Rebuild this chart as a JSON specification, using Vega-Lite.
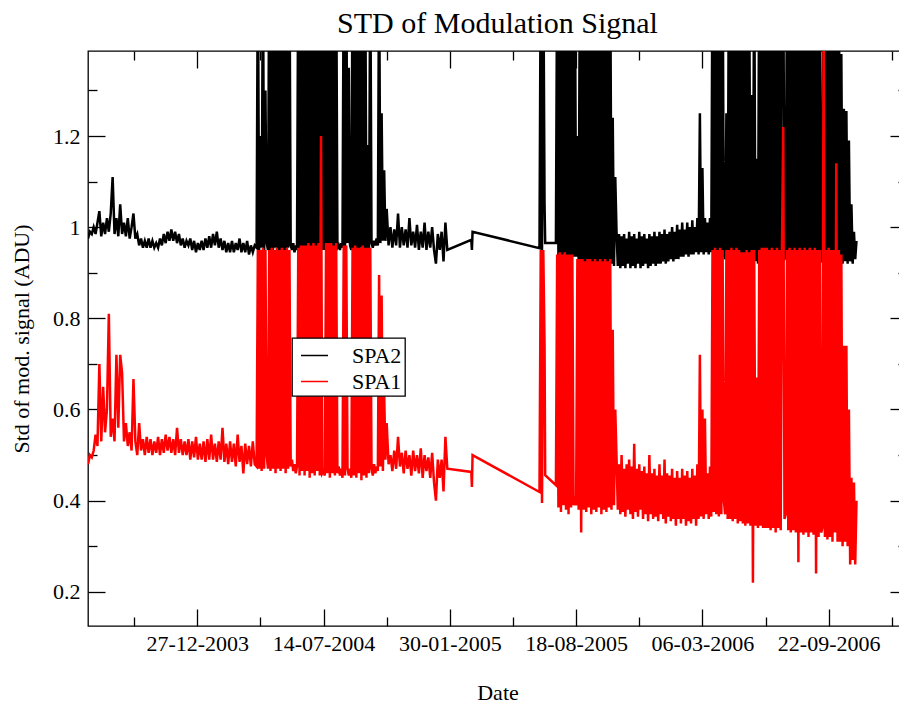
{
"$schema": "https://vega.github.io/schema/vega-lite/v6.json",
"width": 819, "height": 575,
"autosize": {"type": "none"},
"padding": {"left": 88, "top": 51, "right": 0, "bottom": 78},
"background": "white",
"title": {"text": "STD of Modulation Signal", "font": "Liberation Serif", "fontSize": 30, "fontWeight": "normal", "color": "#000", "baseline": "alphabetic", "offset": 21, "dy": 34, "anchor": "middle"},
"config": {
  "view": {"stroke": "#000", "strokeWidth": 1.3},
  "axis": {"grid": false, "domain": false, "tickColor": "#000", "tickWidth": 1.3, "labelFont": "Liberation Serif", "labelFontSize": 22, "labelColor": "#000", "titleFont": "Liberation Serif", "titleFontSize": 22, "titleFontWeight": "normal", "titleColor": "#000", "labelFlush": false, "labelOverlap": false, "labelBound": false},
  "legend": {"strokeWidth": 1.3}
},
"data": {"values": [
{"t":"2003-07-07","SPA2":0.975,"SPA1":0.48},{"t":"2003-07-10","SPA2":0.99,"SPA1":0.50},{"t":"2003-07-13","SPA2":0.985,"SPA1":0.495},{"t":"2003-07-16","SPA2":1.0,"SPA1":0.51},{"t":"2003-07-19","SPA2":0.985,"SPA1":0.545},{"t":"2003-07-22","SPA2":1.01,"SPA1":0.52},{"t":"2003-07-25","SPA2":1.035,"SPA1":0.70},{"t":"2003-07-28","SPA2":0.98,"SPA1":0.53},{"t":"2003-07-31","SPA2":1.01,"SPA1":0.65},{"t":"2003-08-03","SPA2":0.985,"SPA1":0.55},{"t":"2003-08-06","SPA2":1.02,"SPA1":0.60},{"t":"2003-08-09","SPA2":0.99,"SPA1":0.81},{"t":"2003-08-12","SPA2":1.03,"SPA1":0.54},{"t":"2003-08-15","SPA2":1.11,"SPA1":0.58},{"t":"2003-08-18","SPA2":0.985,"SPA1":0.53},{"t":"2003-08-21","SPA2":1.02,"SPA1":0.72},{"t":"2003-08-24","SPA2":0.98,"SPA1":0.56},{"t":"2003-08-27","SPA2":1.05,"SPA1":0.72},{"t":"2003-08-30","SPA2":0.985,"SPA1":0.68},{"t":"2003-09-02","SPA2":1.01,"SPA1":0.53},{"t":"2003-09-05","SPA2":0.98,"SPA1":0.57},{"t":"2003-09-08","SPA2":1.02,"SPA1":0.52},{"t":"2003-09-11","SPA2":0.975,"SPA1":0.55},{"t":"2003-09-14","SPA2":1.0,"SPA1":0.51},{"t":"2003-09-17","SPA2":1.03,"SPA1":0.667},{"t":"2003-09-20","SPA2":0.975,"SPA1":0.53},{"t":"2003-09-23","SPA2":0.985,"SPA1":0.50},{"t":"2003-09-26","SPA2":0.96,"SPA1":0.57},{"t":"2003-09-29","SPA2":0.975,"SPA1":0.51},{"t":"2003-10-02","SPA2":0.955,"SPA1":0.535},{"t":"2003-10-05","SPA2":0.97,"SPA1":0.50},{"t":"2003-10-08","SPA2":0.955,"SPA1":0.54},{"t":"2003-10-11","SPA2":0.975,"SPA1":0.505},{"t":"2003-10-14","SPA2":0.955,"SPA1":0.535},{"t":"2003-10-17","SPA2":0.97,"SPA1":0.50},{"t":"2003-10-20","SPA2":0.955,"SPA1":0.53},{"t":"2003-10-23","SPA2":0.965,"SPA1":0.505},{"t":"2003-10-26","SPA2":0.955,"SPA1":0.54},{"t":"2003-10-29","SPA2":0.975,"SPA1":0.50},{"t":"2003-11-01","SPA2":0.96,"SPA1":0.535},{"t":"2003-11-04","SPA2":0.985,"SPA1":0.505},{"t":"2003-11-07","SPA2":0.965,"SPA1":0.545},{"t":"2003-11-10","SPA2":0.99,"SPA1":0.51},{"t":"2003-11-13","SPA2":0.97,"SPA1":0.54},{"t":"2003-11-16","SPA2":0.995,"SPA1":0.505},{"t":"2003-11-19","SPA2":0.97,"SPA1":0.535},{"t":"2003-11-22","SPA2":0.99,"SPA1":0.50},{"t":"2003-11-25","SPA2":0.965,"SPA1":0.56},{"t":"2003-11-28","SPA2":0.985,"SPA1":0.505},{"t":"2003-12-01","SPA2":0.96,"SPA1":0.535},{"t":"2003-12-04","SPA2":0.975,"SPA1":0.50},{"t":"2003-12-07","SPA2":0.955,"SPA1":0.53},{"t":"2003-12-10","SPA2":0.97,"SPA1":0.50},{"t":"2003-12-13","SPA2":0.96,"SPA1":0.535},{"t":"2003-12-16","SPA2":0.975,"SPA1":0.49},{"t":"2003-12-19","SPA2":0.95,"SPA1":0.53},{"t":"2003-12-22","SPA2":0.97,"SPA1":0.495},{"t":"2003-12-25","SPA2":0.945,"SPA1":0.54},{"t":"2003-12-28","SPA2":0.965,"SPA1":0.49},{"t":"2003-12-31","SPA2":0.95,"SPA1":0.525},
{"t":"2004-01-03","SPA2":0.97,"SPA1":0.49},{"t":"2004-01-06","SPA2":0.95,"SPA1":0.53},{"t":"2004-01-09","SPA2":0.975,"SPA1":0.485},{"t":"2004-01-12","SPA2":0.955,"SPA1":0.535},{"t":"2004-01-15","SPA2":0.98,"SPA1":0.49},{"t":"2004-01-18","SPA2":0.955,"SPA1":0.545},{"t":"2004-01-21","SPA2":0.985,"SPA1":0.49},{"t":"2004-01-24","SPA2":0.96,"SPA1":0.525},{"t":"2004-01-27","SPA2":0.99,"SPA1":0.485},{"t":"2004-01-30","SPA2":0.955,"SPA1":0.53},{"t":"2004-02-02","SPA2":0.975,"SPA1":0.49},{"t":"2004-02-05","SPA2":0.95,"SPA1":0.56},{"t":"2004-02-08","SPA2":0.97,"SPA1":0.485},{"t":"2004-02-11","SPA2":0.945,"SPA1":0.525},{"t":"2004-02-14","SPA2":0.965,"SPA1":0.48},{"t":"2004-02-17","SPA2":0.945,"SPA1":0.53},{"t":"2004-02-20","SPA2":0.97,"SPA1":0.485},{"t":"2004-02-23","SPA2":0.945,"SPA1":0.525},{"t":"2004-02-26","SPA2":0.965,"SPA1":0.475},{"t":"2004-02-29","SPA2":0.95,"SPA1":0.545},{"t":"2004-03-03","SPA2":0.975,"SPA1":0.485},{"t":"2004-03-06","SPA2":0.945,"SPA1":0.52},{"t":"2004-03-09","SPA2":0.965,"SPA1":0.46},{"t":"2004-03-12","SPA2":0.945,"SPA1":0.525},{"t":"2004-03-15","SPA2":0.97,"SPA1":0.48},{"t":"2004-03-18","SPA2":0.94,"SPA1":0.52},{"t":"2004-03-21","SPA2":0.96,"SPA1":0.475},{"t":"2004-03-24","SPA2":0.945,"SPA1":0.53},{"t":"2004-03-27","SPA2":0.96,"SPA1":0.48},
{"t":"2004-03-30","SPA2":0.955,"SPA1":0.475},{"t":"2004-04-01","SPA2":1.6,"SPA1":0.95},{"t":"2004-04-03","SPA2":0.95,"SPA1":0.47},{"t":"2004-04-05","SPA2":1.2,"SPA1":0.95},{"t":"2004-04-07","SPA2":0.955,"SPA1":0.465},{"t":"2004-04-09","SPA2":1.6,"SPA1":0.955},{"t":"2004-04-11","SPA2":0.95,"SPA1":0.47},{"t":"2004-04-13","SPA2":1.3,"SPA1":0.95},{"t":"2004-04-15","SPA2":0.965,"SPA1":0.50},{"t":"2004-04-17","SPA2":0.95,"SPA1":0.47},{"t":"2004-04-19","SPA2":1.6,"SPA1":0.95},{"t":"2004-04-21","SPA2":0.945,"SPA1":0.465},{"t":"2004-04-23","SPA2":1.6,"SPA1":0.955},{"t":"2004-04-25","SPA2":0.95,"SPA1":0.47},{"t":"2004-04-27","SPA2":1.6,"SPA1":0.95},{"t":"2004-04-29","SPA2":0.955,"SPA1":0.46},{"t":"2004-05-01","SPA2":1.6,"SPA1":0.955},{"t":"2004-05-03","SPA2":0.945,"SPA1":0.47},{"t":"2004-05-05","SPA2":1.6,"SPA1":0.95},{"t":"2004-05-07","SPA2":0.95,"SPA1":0.465},{"t":"2004-05-09","SPA2":1.6,"SPA1":0.955},{"t":"2004-05-11","SPA2":0.945,"SPA1":0.47},{"t":"2004-05-13","SPA2":1.6,"SPA1":0.95},{"t":"2004-05-15","SPA2":0.95,"SPA1":0.46},{"t":"2004-05-17","SPA2":1.6,"SPA1":0.955},{"t":"2004-05-19","SPA2":0.955,"SPA1":0.47},{"t":"2004-05-21","SPA2":1.6,"SPA1":0.95},{"t":"2004-05-23","SPA2":0.96,"SPA1":0.475},{"t":"2004-05-25","SPA2":0.95,"SPA1":0.49},{"t":"2004-05-27","SPA2":0.965,"SPA1":0.465},{"t":"2004-05-29","SPA2":0.945,"SPA1":0.48},{"t":"2004-05-31","SPA2":0.96,"SPA1":0.46},{"t":"2004-06-02","SPA2":0.95,"SPA1":0.475},{"t":"2004-06-04","SPA2":1.6,"SPA1":0.955},{"t":"2004-06-06","SPA2":0.95,"SPA1":0.455},{"t":"2004-06-08","SPA2":1.6,"SPA1":0.96},{"t":"2004-06-10","SPA2":0.945,"SPA1":0.465},{"t":"2004-06-12","SPA2":1.6,"SPA1":0.96},{"t":"2004-06-14","SPA2":0.95,"SPA1":0.455},{"t":"2004-06-16","SPA2":1.6,"SPA1":0.96},{"t":"2004-06-18","SPA2":0.945,"SPA1":0.465},{"t":"2004-06-20","SPA2":1.6,"SPA1":0.965},{"t":"2004-06-22","SPA2":0.955,"SPA1":0.45},{"t":"2004-06-24","SPA2":1.6,"SPA1":0.96},{"t":"2004-06-26","SPA2":0.95,"SPA1":0.46},{"t":"2004-06-28","SPA2":1.6,"SPA1":0.965},{"t":"2004-06-30","SPA2":0.945,"SPA1":0.455},{"t":"2004-07-02","SPA2":1.6,"SPA1":0.96},{"t":"2004-07-04","SPA2":0.95,"SPA1":0.465},{"t":"2004-07-06","SPA2":1.6,"SPA1":0.965},{"t":"2004-07-08","SPA2":0.955,"SPA1":0.455},{"t":"2004-07-10","SPA2":1.6,"SPA1":1.2},{"t":"2004-07-12","SPA2":0.95,"SPA1":0.46},{"t":"2004-07-14","SPA2":1.6,"SPA1":0.465},{"t":"2004-07-16","SPA2":0.95,"SPA1":0.455},{"t":"2004-07-18","SPA2":1.6,"SPA1":0.965},{"t":"2004-07-20","SPA2":0.955,"SPA1":0.46},{"t":"2004-07-22","SPA2":1.6,"SPA1":0.965},{"t":"2004-07-24","SPA2":0.95,"SPA1":0.45},{"t":"2004-07-26","SPA2":1.6,"SPA1":0.965},{"t":"2004-07-28","SPA2":0.945,"SPA1":0.46},{"t":"2004-07-30","SPA2":1.6,"SPA1":0.96},{"t":"2004-08-01","SPA2":0.95,"SPA1":0.455},{"t":"2004-08-03","SPA2":1.6,"SPA1":0.965},{"t":"2004-08-05","SPA2":0.955,"SPA1":0.46},{"t":"2004-08-07","SPA2":0.96,"SPA1":0.475},{"t":"2004-08-09","SPA2":0.95,"SPA1":0.455},{"t":"2004-08-11","SPA2":0.965,"SPA1":0.47},{"t":"2004-08-13","SPA2":0.955,"SPA1":0.45},{"t":"2004-08-15","SPA2":1.6,"SPA1":0.96},{"t":"2004-08-17","SPA2":0.95,"SPA1":0.455},{"t":"2004-08-19","SPA2":1.6,"SPA1":0.96},{"t":"2004-08-21","SPA2":0.965,"SPA1":0.47},{"t":"2004-08-23","SPA2":1.35,"SPA1":0.455},{"t":"2004-08-25","SPA2":0.96,"SPA1":0.47},{"t":"2004-08-27","SPA2":0.95,"SPA1":0.45},{"t":"2004-08-29","SPA2":1.6,"SPA1":0.955},{"t":"2004-08-31","SPA2":0.95,"SPA1":0.455},{"t":"2004-09-02","SPA2":1.6,"SPA1":0.96},{"t":"2004-09-04","SPA2":0.945,"SPA1":0.45},{"t":"2004-09-06","SPA2":1.6,"SPA1":0.955},{"t":"2004-09-08","SPA2":0.95,"SPA1":0.46},{"t":"2004-09-10","SPA2":1.6,"SPA1":0.955},{"t":"2004-09-12","SPA2":0.955,"SPA1":0.445},{"t":"2004-09-14","SPA2":1.6,"SPA1":0.96},{"t":"2004-09-16","SPA2":0.95,"SPA1":0.455},{"t":"2004-09-18","SPA2":1.6,"SPA1":0.955},{"t":"2004-09-20","SPA2":0.945,"SPA1":0.45},{"t":"2004-09-22","SPA2":1.18,"SPA1":0.955},{"t":"2004-09-24","SPA2":0.95,"SPA1":0.46},{"t":"2004-09-26","SPA2":1.6,"SPA1":0.955},{"t":"2004-09-28","SPA2":0.965,"SPA1":0.47},{"t":"2004-09-30","SPA2":0.955,"SPA1":0.455},{"t":"2004-10-02","SPA2":0.97,"SPA1":0.48},{"t":"2004-10-04","SPA2":0.96,"SPA1":0.46},{"t":"2004-10-06","SPA2":0.975,"SPA1":0.475},{"t":"2004-10-08","SPA2":0.96,"SPA1":0.465},{"t":"2004-10-10","SPA2":1.6,"SPA1":0.895},{"t":"2004-10-12","SPA2":0.965,"SPA1":0.475},{"t":"2004-10-14","SPA2":1.25,"SPA1":0.85},{"t":"2004-10-16","SPA2":0.97,"SPA1":0.465},{"t":"2004-10-18","SPA2":1.125,"SPA1":0.64},{"t":"2004-10-20","SPA2":0.97,"SPA1":0.49},{"t":"2004-10-22","SPA2":1.04,"SPA1":0.57},
{"t":"2004-10-25","SPA2":0.96,"SPA1":0.48},{"t":"2004-10-28","SPA2":1.0,"SPA1":0.50},{"t":"2004-10-31","SPA2":0.955,"SPA1":0.465},{"t":"2004-11-03","SPA2":0.995,"SPA1":0.51},{"t":"2004-11-06","SPA2":0.96,"SPA1":0.47},{"t":"2004-11-09","SPA2":1.03,"SPA1":0.54},{"t":"2004-11-12","SPA2":0.955,"SPA1":0.475},{"t":"2004-11-15","SPA2":1.0,"SPA1":0.505},{"t":"2004-11-18","SPA2":0.96,"SPA1":0.46},{"t":"2004-11-21","SPA2":0.995,"SPA1":0.51},{"t":"2004-11-24","SPA2":0.955,"SPA1":0.47},{"t":"2004-11-27","SPA2":1.02,"SPA1":0.50},{"t":"2004-11-30","SPA2":0.96,"SPA1":0.455},{"t":"2004-12-03","SPA2":0.99,"SPA1":0.51},{"t":"2004-12-06","SPA2":0.955,"SPA1":0.465},{"t":"2004-12-09","SPA2":1.005,"SPA1":0.50},{"t":"2004-12-12","SPA2":0.95,"SPA1":0.46},{"t":"2004-12-15","SPA2":0.99,"SPA1":0.515},{"t":"2004-12-18","SPA2":0.955,"SPA1":0.45},{"t":"2004-12-21","SPA2":1.01,"SPA1":0.50},{"t":"2004-12-24","SPA2":0.95,"SPA1":0.465},{"t":"2004-12-27","SPA2":0.99,"SPA1":0.495},{"t":"2004-12-30","SPA2":0.955,"SPA1":0.45},{"t":"2005-01-02","SPA2":1.0,"SPA1":0.505},{"t":"2005-01-05","SPA2":0.95,"SPA1":0.44},{"t":"2005-01-08","SPA2":0.92,"SPA1":0.40},{"t":"2005-01-11","SPA2":0.985,"SPA1":0.49},{"t":"2005-01-14","SPA2":0.95,"SPA1":0.45},{"t":"2005-01-17","SPA2":0.99,"SPA1":0.49},{"t":"2005-01-20","SPA2":0.925,"SPA1":0.42},{"t":"2005-01-23","SPA2":1.01,"SPA1":0.54},{"t":"2005-01-26","SPA2":0.95,"SPA1":0.47},
{"t":"2005-03-05","SPA2":0.972,"SPA1":0.463},{"t":"2005-03-06","SPA2":0.95,"SPA1":0.43},{"t":"2005-03-07","SPA2":0.99,"SPA1":0.50},{"t":"2005-06-21","SPA2":0.954,"SPA1":0.419},{"t":"2005-06-23","SPA2":1.6,"SPA1":0.95},{"t":"2005-06-25","SPA2":0.95,"SPA1":0.395},{"t":"2005-06-27","SPA2":1.6,"SPA1":0.95},{"t":"2005-06-29","SPA2":1.05,"SPA1":0.745},{"t":"2005-06-30","SPA2":0.965,"SPA1":0.456},{"t":"2005-07-17","SPA2":0.965,"SPA1":0.434},
{"t":"2005-07-19","SPA2":1.6,"SPA1":0.94},{"t":"2005-07-21","SPA2":0.93,"SPA1":0.385},{"t":"2005-07-23","SPA2":1.6,"SPA1":0.945},{"t":"2005-07-25","SPA2":0.925,"SPA1":0.375},{"t":"2005-07-27","SPA2":1.6,"SPA1":0.94},{"t":"2005-07-29","SPA2":0.93,"SPA1":0.39},{"t":"2005-07-31","SPA2":1.6,"SPA1":0.945},{"t":"2005-08-02","SPA2":0.92,"SPA1":0.38},{"t":"2005-08-04","SPA2":1.6,"SPA1":0.94},{"t":"2005-08-06","SPA2":0.93,"SPA1":0.37},{"t":"2005-08-08","SPA2":1.6,"SPA1":0.94},{"t":"2005-08-10","SPA2":0.925,"SPA1":0.385},{"t":"2005-08-12","SPA2":1.6,"SPA1":0.94},{"t":"2005-08-14","SPA2":0.935,"SPA1":0.39},{"t":"2005-08-16","SPA2":1.6,"SPA1":0.40},{"t":"2005-08-18","SPA2":0.935,"SPA1":0.39},{"t":"2005-08-20","SPA2":1.2,"SPA1":0.93},{"t":"2005-08-22","SPA2":0.925,"SPA1":0.38},{"t":"2005-08-24","SPA2":1.6,"SPA1":0.93},{"t":"2005-08-26","SPA2":0.92,"SPA1":0.33},{"t":"2005-08-28","SPA2":1.6,"SPA1":0.93},{"t":"2005-08-30","SPA2":0.915,"SPA1":0.38},{"t":"2005-09-01","SPA2":1.6,"SPA1":0.925},{"t":"2005-09-03","SPA2":0.92,"SPA1":0.375},{"t":"2005-09-05","SPA2":1.6,"SPA1":0.93},{"t":"2005-09-07","SPA2":0.915,"SPA1":0.385},{"t":"2005-09-09","SPA2":1.6,"SPA1":0.93},{"t":"2005-09-11","SPA2":0.92,"SPA1":0.37},{"t":"2005-09-13","SPA2":1.6,"SPA1":0.925},{"t":"2005-09-15","SPA2":0.91,"SPA1":0.38},{"t":"2005-09-17","SPA2":1.6,"SPA1":0.93},{"t":"2005-09-19","SPA2":0.92,"SPA1":0.375},{"t":"2005-09-21","SPA2":1.6,"SPA1":0.925},{"t":"2005-09-23","SPA2":0.915,"SPA1":0.385},{"t":"2005-09-25","SPA2":1.6,"SPA1":0.93},{"t":"2005-09-27","SPA2":0.92,"SPA1":0.37},{"t":"2005-09-29","SPA2":1.6,"SPA1":0.925},{"t":"2005-10-01","SPA2":0.91,"SPA1":0.38},{"t":"2005-10-03","SPA2":1.6,"SPA1":0.93},{"t":"2005-10-05","SPA2":0.92,"SPA1":0.375},{"t":"2005-10-07","SPA2":1.6,"SPA1":0.925},{"t":"2005-10-09","SPA2":0.915,"SPA1":0.385},{"t":"2005-10-11","SPA2":1.6,"SPA1":0.93},{"t":"2005-10-13","SPA2":0.92,"SPA1":0.38},{"t":"2005-10-15","SPA2":1.24,"SPA1":0.775},{"t":"2005-10-17","SPA2":0.915,"SPA1":0.39},{"t":"2005-10-19","SPA2":1.11,"SPA1":0.60},{"t":"2005-10-21","SPA2":0.99,"SPA1":0.495},
{"t":"2005-10-23","SPA2":0.915,"SPA1":0.38},{"t":"2005-10-25","SPA2":0.985,"SPA1":0.48},{"t":"2005-10-27","SPA2":0.91,"SPA1":0.37},{"t":"2005-10-29","SPA2":0.98,"SPA1":0.50},{"t":"2005-10-31","SPA2":0.915,"SPA1":0.375},{"t":"2005-11-02","SPA2":0.985,"SPA1":0.47},{"t":"2005-11-04","SPA2":0.91,"SPA1":0.365},{"t":"2005-11-06","SPA2":0.975,"SPA1":0.48},{"t":"2005-11-08","SPA2":0.92,"SPA1":0.38},{"t":"2005-11-10","SPA2":0.99,"SPA1":0.49},{"t":"2005-11-12","SPA2":0.91,"SPA1":0.37},{"t":"2005-11-14","SPA2":0.98,"SPA1":0.475},{"t":"2005-11-16","SPA2":0.915,"SPA1":0.36},{"t":"2005-11-18","SPA2":0.985,"SPA1":0.525},{"t":"2005-11-20","SPA2":0.91,"SPA1":0.375},{"t":"2005-11-22","SPA2":0.975,"SPA1":0.47},{"t":"2005-11-24","SPA2":0.92,"SPA1":0.365},{"t":"2005-11-26","SPA2":0.99,"SPA1":0.48},{"t":"2005-11-28","SPA2":0.91,"SPA1":0.38},{"t":"2005-11-30","SPA2":0.98,"SPA1":0.465},{"t":"2005-12-02","SPA2":0.915,"SPA1":0.36},{"t":"2005-12-04","SPA2":0.985,"SPA1":0.475},{"t":"2005-12-06","SPA2":0.92,"SPA1":0.37},{"t":"2005-12-08","SPA2":0.975,"SPA1":0.46},{"t":"2005-12-10","SPA2":0.91,"SPA1":0.355},{"t":"2005-12-12","SPA2":0.985,"SPA1":0.50},{"t":"2005-12-14","SPA2":0.915,"SPA1":0.37},{"t":"2005-12-16","SPA2":0.98,"SPA1":0.46},{"t":"2005-12-18","SPA2":0.92,"SPA1":0.36},{"t":"2005-12-20","SPA2":0.99,"SPA1":0.47},{"t":"2005-12-22","SPA2":0.915,"SPA1":0.365},{"t":"2005-12-24","SPA2":0.98,"SPA1":0.455},{"t":"2005-12-26","SPA2":0.92,"SPA1":0.355},{"t":"2005-12-28","SPA2":0.99,"SPA1":0.48},{"t":"2005-12-30","SPA2":0.92,"SPA1":0.37},{"t":"2006-01-01","SPA2":0.985,"SPA1":0.455},{"t":"2006-01-03","SPA2":0.925,"SPA1":0.36},{"t":"2006-01-05","SPA2":0.995,"SPA1":0.49},{"t":"2006-01-07","SPA2":0.92,"SPA1":0.35},{"t":"2006-01-09","SPA2":0.985,"SPA1":0.46},{"t":"2006-01-11","SPA2":0.925,"SPA1":0.365},{"t":"2006-01-13","SPA2":0.99,"SPA1":0.455},{"t":"2006-01-15","SPA2":0.93,"SPA1":0.355},{"t":"2006-01-17","SPA2":1.0,"SPA1":0.47},{"t":"2006-01-19","SPA2":0.925,"SPA1":0.36},{"t":"2006-01-21","SPA2":0.99,"SPA1":0.45},{"t":"2006-01-23","SPA2":0.93,"SPA1":0.345},{"t":"2006-01-25","SPA2":1.005,"SPA1":0.465},{"t":"2006-01-27","SPA2":0.93,"SPA1":0.36},{"t":"2006-01-29","SPA2":0.995,"SPA1":0.45},{"t":"2006-01-31","SPA2":0.935,"SPA1":0.35},{"t":"2006-02-02","SPA2":1.01,"SPA1":0.47},{"t":"2006-02-04","SPA2":0.935,"SPA1":0.36},{"t":"2006-02-06","SPA2":0.995,"SPA1":0.455},{"t":"2006-02-08","SPA2":0.94,"SPA1":0.345},{"t":"2006-02-10","SPA2":1.01,"SPA1":0.465},{"t":"2006-02-12","SPA2":0.935,"SPA1":0.355},{"t":"2006-02-14","SPA2":1.0,"SPA1":0.45},{"t":"2006-02-16","SPA2":0.94,"SPA1":0.35},{"t":"2006-02-18","SPA2":1.015,"SPA1":0.47},{"t":"2006-02-20","SPA2":0.94,"SPA1":0.36},{"t":"2006-02-22","SPA2":1.0,"SPA1":0.455},{"t":"2006-02-24","SPA2":0.945,"SPA1":0.345},{"t":"2006-02-26","SPA2":1.02,"SPA1":0.48},{"t":"2006-02-28","SPA2":0.94,"SPA1":0.36},{"t":"2006-03-02","SPA2":1.25,"SPA1":0.72},{"t":"2006-03-04","SPA2":0.945,"SPA1":0.365},{"t":"2006-03-06","SPA2":1.13,"SPA1":0.60},{"t":"2006-03-08","SPA2":0.94,"SPA1":0.36},{"t":"2006-03-10","SPA2":1.02,"SPA1":0.58},{"t":"2006-03-12","SPA2":0.945,"SPA1":0.37},{"t":"2006-03-14","SPA2":1.01,"SPA1":0.46},{"t":"2006-03-16","SPA2":0.94,"SPA1":0.36},{"t":"2006-03-18","SPA2":1.02,"SPA1":0.475},{"t":"2006-03-20","SPA2":0.945,"SPA1":0.365},
{"t":"2006-03-22","SPA2":1.6,"SPA1":0.95},{"t":"2006-03-24","SPA2":0.935,"SPA1":0.375},{"t":"2006-03-26","SPA2":1.6,"SPA1":0.955},{"t":"2006-03-28","SPA2":0.93,"SPA1":0.37},{"t":"2006-03-30","SPA2":1.6,"SPA1":0.95},{"t":"2006-04-01","SPA2":0.935,"SPA1":0.365},{"t":"2006-04-03","SPA2":1.6,"SPA1":0.955},{"t":"2006-04-05","SPA2":0.93,"SPA1":0.37},{"t":"2006-04-07","SPA2":1.6,"SPA1":0.95},{"t":"2006-04-09","SPA2":0.94,"SPA1":0.40},{"t":"2006-04-11","SPA2":0.93,"SPA1":0.37},{"t":"2006-04-13","SPA2":1.25,"SPA1":0.95},{"t":"2006-04-15","SPA2":0.935,"SPA1":0.36},{"t":"2006-04-17","SPA2":1.6,"SPA1":0.95},{"t":"2006-04-19","SPA2":0.93,"SPA1":0.36},{"t":"2006-04-21","SPA2":1.6,"SPA1":0.955},{"t":"2006-04-23","SPA2":0.925,"SPA1":0.355},{"t":"2006-04-25","SPA2":1.6,"SPA1":0.95},{"t":"2006-04-27","SPA2":0.93,"SPA1":0.36},{"t":"2006-04-29","SPA2":1.6,"SPA1":0.955},{"t":"2006-05-01","SPA2":0.925,"SPA1":0.35},{"t":"2006-05-03","SPA2":1.6,"SPA1":0.95},{"t":"2006-05-05","SPA2":0.93,"SPA1":0.355},{"t":"2006-05-07","SPA2":1.6,"SPA1":0.945},{"t":"2006-05-09","SPA2":0.92,"SPA1":0.35},{"t":"2006-05-11","SPA2":1.6,"SPA1":0.945},{"t":"2006-05-13","SPA2":0.925,"SPA1":0.345},{"t":"2006-05-15","SPA2":1.6,"SPA1":0.95},{"t":"2006-05-17","SPA2":0.92,"SPA1":0.35},{"t":"2006-05-19","SPA2":1.6,"SPA1":0.945},{"t":"2006-05-21","SPA2":0.925,"SPA1":0.345},{"t":"2006-05-23","SPA2":1.29,"SPA1":0.95},{"t":"2006-05-25","SPA2":0.92,"SPA1":0.22},{"t":"2006-05-27","SPA2":1.6,"SPA1":0.95},{"t":"2006-05-29","SPA2":0.925,"SPA1":0.345},{"t":"2006-05-31","SPA2":1.15,"SPA1":0.67},{"t":"2006-06-02","SPA2":0.92,"SPA1":0.34},{"t":"2006-06-04","SPA2":1.6,"SPA1":0.95},{"t":"2006-06-06","SPA2":0.925,"SPA1":0.345},{"t":"2006-06-08","SPA2":1.6,"SPA1":0.955},{"t":"2006-06-10","SPA2":0.92,"SPA1":0.34},{"t":"2006-06-12","SPA2":1.6,"SPA1":0.955},{"t":"2006-06-14","SPA2":0.9,"SPA1":0.34},{"t":"2006-06-16","SPA2":1.6,"SPA1":0.955},{"t":"2006-06-18","SPA2":0.92,"SPA1":0.34},{"t":"2006-06-20","SPA2":1.6,"SPA1":0.95},{"t":"2006-06-22","SPA2":0.925,"SPA1":0.335},{"t":"2006-06-24","SPA2":1.6,"SPA1":0.955},{"t":"2006-06-26","SPA2":0.92,"SPA1":0.34},{"t":"2006-06-28","SPA2":1.6,"SPA1":0.95},{"t":"2006-06-30","SPA2":0.925,"SPA1":0.33},{"t":"2006-07-02","SPA2":1.6,"SPA1":0.955},{"t":"2006-07-04","SPA2":0.92,"SPA1":0.34},{"t":"2006-07-06","SPA2":1.6,"SPA1":0.95},{"t":"2006-07-08","SPA2":0.925,"SPA1":0.335},{"t":"2006-07-10","SPA2":1.6,"SPA1":0.955},{"t":"2006-07-12","SPA2":1.6,"SPA1":1.22},{"t":"2006-07-14","SPA2":0.93,"SPA1":0.36},{"t":"2006-07-16","SPA2":0.935,"SPA1":0.37},{"t":"2006-07-18","SPA2":1.6,"SPA1":0.95},{"t":"2006-07-20","SPA2":0.925,"SPA1":0.335},{"t":"2006-07-22","SPA2":1.6,"SPA1":0.955},{"t":"2006-07-24","SPA2":0.92,"SPA1":0.33},{"t":"2006-07-26","SPA2":1.6,"SPA1":0.95},{"t":"2006-07-28","SPA2":0.925,"SPA1":0.335},{"t":"2006-07-30","SPA2":1.6,"SPA1":0.955},{"t":"2006-08-01","SPA2":0.92,"SPA1":0.33},{"t":"2006-08-03","SPA2":1.6,"SPA1":0.95},{"t":"2006-08-05","SPA2":0.925,"SPA1":0.265},{"t":"2006-08-07","SPA2":1.6,"SPA1":0.955},{"t":"2006-08-09","SPA2":0.92,"SPA1":0.33},{"t":"2006-08-11","SPA2":1.6,"SPA1":0.95},{"t":"2006-08-13","SPA2":0.925,"SPA1":0.325},{"t":"2006-08-15","SPA2":1.6,"SPA1":0.955},{"t":"2006-08-17","SPA2":0.92,"SPA1":0.33},{"t":"2006-08-19","SPA2":1.6,"SPA1":0.95},{"t":"2006-08-21","SPA2":0.925,"SPA1":0.32},{"t":"2006-08-23","SPA2":1.6,"SPA1":0.955},{"t":"2006-08-25","SPA2":0.92,"SPA1":0.33},{"t":"2006-08-27","SPA2":1.6,"SPA1":0.95},{"t":"2006-08-29","SPA2":0.925,"SPA1":0.325},{"t":"2006-08-31","SPA2":1.6,"SPA1":0.955},{"t":"2006-09-02","SPA2":0.92,"SPA1":0.24},{"t":"2006-09-04","SPA2":1.6,"SPA1":0.95},{"t":"2006-09-06","SPA2":0.925,"SPA1":0.32},{"t":"2006-09-08","SPA2":1.6,"SPA1":0.95},{"t":"2006-09-10","SPA2":0.93,"SPA1":0.33},{"t":"2006-09-12","SPA2":0.925,"SPA1":0.34},{"t":"2006-09-14","SPA2":1.6,"SPA1":1.5},{"t":"2006-09-16","SPA2":0.92,"SPA1":0.32},{"t":"2006-09-18","SPA2":1.6,"SPA1":0.95},{"t":"2006-09-20","SPA2":0.925,"SPA1":0.315},{"t":"2006-09-22","SPA2":1.6,"SPA1":0.955},{"t":"2006-09-24","SPA2":0.92,"SPA1":0.32},{"t":"2006-09-26","SPA2":1.6,"SPA1":0.95},{"t":"2006-09-28","SPA2":0.925,"SPA1":0.31},{"t":"2006-09-30","SPA2":1.6,"SPA1":0.95},{"t":"2006-10-02","SPA2":0.93,"SPA1":0.33},{"t":"2006-10-04","SPA2":1.6,"SPA1":1.14},{"t":"2006-10-06","SPA2":0.92,"SPA1":0.31},{"t":"2006-10-08","SPA2":1.6,"SPA1":0.95},{"t":"2006-10-10","SPA2":0.925,"SPA1":0.31},{"t":"2006-10-12","SPA2":1.38,"SPA1":0.94},{"t":"2006-10-14","SPA2":0.92,"SPA1":0.30},{"t":"2006-10-16","SPA2":1.26,"SPA1":0.74},{"t":"2006-10-18","SPA2":0.925,"SPA1":0.31},{"t":"2006-10-20","SPA2":1.255,"SPA1":0.74},{"t":"2006-10-22","SPA2":0.92,"SPA1":0.30},{"t":"2006-10-24","SPA2":1.19,"SPA1":0.60},{"t":"2006-10-26","SPA2":0.925,"SPA1":0.26},{"t":"2006-10-28","SPA2":1.05,"SPA1":0.45},{"t":"2006-10-30","SPA2":0.92,"SPA1":0.27},{"t":"2006-11-01","SPA2":0.99,"SPA1":0.44},{"t":"2006-11-03","SPA2":0.93,"SPA1":0.26},{"t":"2006-11-05","SPA2":0.97,"SPA1":0.40}
]},
"transform": [{"fold": ["SPA2", "SPA1"], "as": ["series", "v"]}],
"layer": [
  {
    "mark": {"type": "line", "clip": true, "strokeWidth": 2.5},
    "encoding": {
      "x": {"field": "t", "type": "temporal",
        "scale": {"type": "utc", "domain": [{"year": 2003, "month": 7, "date": 7, "utc": true}, {"year": 2007, "month": 1, "date": 24, "utc": true}]},
        "axis": {"orient": "bottom", "values": [{"year": 2003, "month": 12, "date": 27, "utc": true}, {"year": 2004, "month": 7, "date": 14, "utc": true}, {"year": 2005, "month": 1, "date": 30, "utc": true}, {"year": 2005, "month": 8, "date": 18, "utc": true}, {"year": 2006, "month": 3, "date": 6, "utc": true}, {"year": 2006, "month": 9, "date": 22, "utc": true}],
          "format": "%d-%m-%Y", "tickSize": -17, "labelPadding": 24.5, "title": "Date", "titleBaseline": "alphabetic", "titleY": 73}},
      "y": {"field": "v", "type": "quantitative",
        "scale": {"domain": [0.125, 1.3865], "nice": false, "zero": false},
        "axis": {"orient": "left", "values": [0.2, 0.4, 0.6, 0.8, 1, 1.2], "format": "~g", "tickSize": -17, "labelPadding": 25, "title": "Std of mod. signal (ADU)", "titleBaseline": "alphabetic", "titleX": -60}},
      "color": {"field": "series", "type": "nominal",
        "scale": {"domain": ["SPA2", "SPA1"], "range": ["#000000", "#ff0000"]},
        "legend": {"orient": "none", "legendX": 204, "legendY": 287, "title": null, "symbolType": "stroke", "symbolSize": 729, "symbolStrokeWidth": 1.5, "symbolOffset": 5, "labelFont": "Liberation Serif", "labelFontSize": 22, "labelColor": "#000", "strokeColor": "#000", "fillColor": "#fff", "padding": 3, "labelOffset": 23, "rowPadding": 0}}
    }
  },
  {
    "mark": {"type": "line", "opacity": 0, "clip": true},
    "encoding": {
      "x": {"field": "t", "type": "temporal",
        "scale": {"type": "utc", "domain": [{"year": 2003, "month": 7, "date": 7, "utc": true}, {"year": 2007, "month": 1, "date": 24, "utc": true}]},
        "axis": {"orient": "top", "values": [{"year": 2003, "month": 12, "date": 27, "utc": true}, {"year": 2004, "month": 7, "date": 14, "utc": true}, {"year": 2005, "month": 1, "date": 30, "utc": true}, {"year": 2005, "month": 8, "date": 18, "utc": true}, {"year": 2006, "month": 3, "date": 6, "utc": true}, {"year": 2006, "month": 9, "date": 22, "utc": true}],
          "tickSize": -17, "labels": false, "title": null}},
      "y": {"field": "v", "type": "quantitative",
        "scale": {"domain": [0.125, 1.3865], "nice": false, "zero": false},
        "axis": {"orient": "right", "values": [0.2, 0.4, 0.6, 0.8, 1, 1.2], "tickSize": -17, "labels": false, "title": null}}
    }
  },
  {
    "mark": {"type": "line", "opacity": 0, "clip": true},
    "encoding": {
      "x": {"field": "t", "type": "temporal",
        "scale": {"type": "utc", "domain": [{"year": 2003, "month": 7, "date": 7, "utc": true}, {"year": 2007, "month": 1, "date": 24, "utc": true}]},
        "axis": {"orient": "bottom", "values": [{"year": 2003, "month": 9, "date": 18, "utc": true}, {"year": 2004, "month": 4, "date": 5, "utc": true}, {"year": 2004, "month": 10, "date": 22, "utc": true}, {"year": 2005, "month": 5, "date": 10, "utc": true}, {"year": 2005, "month": 11, "date": 26, "utc": true}, {"year": 2006, "month": 6, "date": 14, "utc": true}, {"year": 2006, "month": 12, "date": 31, "utc": true}],
          "tickSize": -9, "labels": false, "title": null}},
      "y": {"field": "v", "type": "quantitative",
        "scale": {"domain": [0.125, 1.3865], "nice": false, "zero": false},
        "axis": {"orient": "left", "values": [0.3, 0.5, 0.7, 0.9, 1.1, 1.3], "tickSize": -9, "labels": false, "title": null}}
    }
  },
  {
    "mark": {"type": "line", "opacity": 0, "clip": true},
    "encoding": {
      "x": {"field": "t", "type": "temporal",
        "scale": {"type": "utc", "domain": [{"year": 2003, "month": 7, "date": 7, "utc": true}, {"year": 2007, "month": 1, "date": 24, "utc": true}]},
        "axis": {"orient": "top", "values": [{"year": 2003, "month": 9, "date": 18, "utc": true}, {"year": 2004, "month": 4, "date": 5, "utc": true}, {"year": 2004, "month": 10, "date": 22, "utc": true}, {"year": 2005, "month": 5, "date": 10, "utc": true}, {"year": 2005, "month": 11, "date": 26, "utc": true}, {"year": 2006, "month": 6, "date": 14, "utc": true}, {"year": 2006, "month": 12, "date": 31, "utc": true}],
          "tickSize": -9, "labels": false, "title": null}},
      "y": {"field": "v", "type": "quantitative",
        "scale": {"domain": [0.125, 1.3865], "nice": false, "zero": false},
        "axis": {"orient": "right", "values": [0.3, 0.5, 0.7, 0.9, 1.1, 1.3], "tickSize": -9, "labels": false, "title": null}}
    }
  }
],
"resolve": {"axis": {"x": "independent", "y": "independent"}}
}
